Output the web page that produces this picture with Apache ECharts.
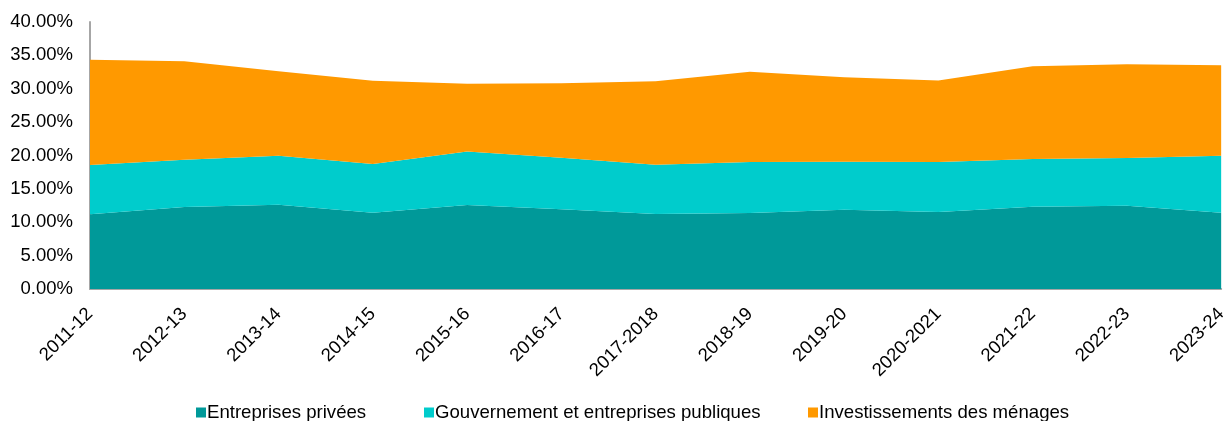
<!DOCTYPE html>
<html>
<head>
<meta charset="utf-8">
<script src="https://cdn.jsdelivr.net/npm/echarts@6/dist/echarts.min.js"></script>
<style>
  html, body { margin: 0; padding: 0; background: #ffffff; }
  #chart { width: 1230px; height: 421px; }
</style>
</head>
<body>
<div id="chart"></div>
<script>
// Fiscal years
const years = ['2011-12', '2012-13', '2013-14', '2014-15', '2015-16', '2016-17', '2017-2018',
  '2018-19', '2019-20', '2020-2021', '2021-22', '2022-23', '2023-24'];

// Shares in percent, stacked from bottom to top
const entreprisesPrivees = [11.19, 12.28, 12.63, 11.44, 12.57, 11.93, 11.23, 11.38, 11.89, 11.53, 12.33, 12.48, 11.44];
const gouvernementPubliques = [7.37, 7.09, 7.34, 7.27, 8.04, 7.74, 7.39, 7.63, 7.18, 7.48, 7.13, 7.13, 8.53];
const menages = [15.78, 14.76, 12.66, 12.49, 10.14, 11.17, 12.52, 13.53, 12.67, 12.23, 13.92, 14.07, 13.56];

const seriesNames = ['Entreprises privées', 'Gouvernement et entreprises publiques', 'Investissements des ménages'];
const seriesColors = ['#009999', '#00CCCC', '#FF9900'];
const seriesData = [entreprisesPrivees, gouvernementPubliques, menages];

const yTicks = { min: 0, max: 40, interval: 5 };

const chart = echarts.init(document.getElementById('chart'), null, { renderer: 'canvas' });

const font = 'Arial, "Liberation Sans", sans-serif';

// One legend entry per slot along the bottom row
const legendLefts = [196, 424, 808];

chart.setOption({
  animation: false,
  grid: { left: 90, right: 4, top: 22, bottom: 132, containLabel: false },
  legend: seriesNames.map((name, i) => ({
    top: 403,
    left: legendLefts[i],
    itemWidth: 10,
    itemHeight: 10,
    padding: 0,
    icon: 'rect',
    textStyle: { fontFamily: font, fontSize: 18.6, color: '#000000', padding: [0, 0, 0, -4] },
    data: [name]
  })),
  xAxis: {
    type: 'category',
    boundaryGap: false,
    data: years,
    axisLine: { lineStyle: { color: '#A6A6A6', width: 2 } },
    axisTick: { show: false },
    axisLabel: {
      rotate: 45,
      interval: 0,
      margin: 22,
      fontFamily: font,
      fontSize: 18.5,
      color: '#000000'
    },
    splitLine: { show: false }
  },
  yAxis: {
    type: 'value',
    min: yTicks.min,
    max: yTicks.max,
    interval: yTicks.interval,
    axisLine: { show: true, lineStyle: { color: '#A6A6A6', width: 2 } },
    axisTick: { show: false },
    splitLine: { show: false },
    axisLabel: {
      margin: 17,
      fontFamily: font,
      fontSize: 18.5,
      color: '#000000',
      formatter: v => v.toFixed(2) + '%'
    }
  },
  series: seriesData.map((d, i) => ({
    name: seriesNames[i],
    type: 'line',
    stack: 'total',
    data: d,
    color: seriesColors[i],
    showSymbol: false,
    symbol: 'none',
    lineStyle: { width: 0 },
    areaStyle: { color: seriesColors[i], opacity: 1 },
    z: 2
  }))
});
</script>
</body>
</html>
